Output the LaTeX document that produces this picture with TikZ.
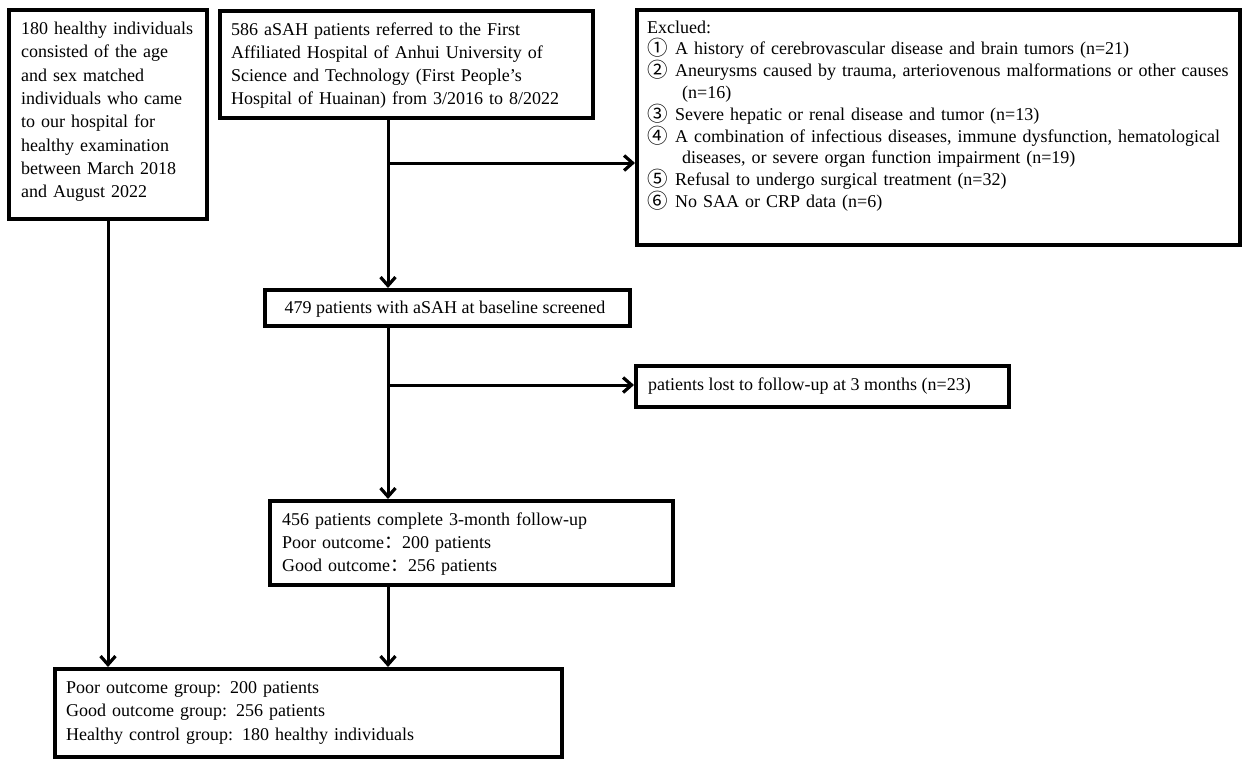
\documentclass[tikz,border=0pt]{standalone}
\usepackage{fontspec}
\setmainfont{Liberation Serif}
\newfontfamily\cjk{Noto Sans CJK SC}
\usetikzlibrary{arrows.meta}
\newcommand{\cnum}[1]{\makebox[28pt][l]{\raisebox{-1pt}{\cjk\fontsize{20.5}{20}\selectfont #1}}}
\begin{document}
\begin{tikzpicture}[x=1pt,y=-1pt,
  box/.style={draw, line width=3.5pt, inner sep=0pt, anchor=north west},
  txt/.style={anchor=base west, inner sep=0pt, align=left, font=\fontsize{18}{23.3}\selectfont},
  arr/.style={line width=3pt, -{Straight Barb[length=8.5pt,width=15pt,line width=3.2pt]}},
  ln/.style={line width=3pt}]
\useasboundingbox[fill=white] (0,0) rectangle (1248,764);

% boxes
\node[box, minimum width=198pt, minimum height=209pt] (A) at (7,8) {};
\node[box, minimum width=373pt, minimum height=107pt] (B) at (218,9) {};
\node[box, minimum width=603pt, minimum height=235pt] (C) at (635,8) {};
\node[box, minimum width=365pt, minimum height=36pt] (D) at (263,288) {};
\node[box, minimum width=373pt, minimum height=41pt] (E) at (634,364) {};
\node[box, minimum width=403pt, minimum height=84pt] (F) at (268,499) {};
\node[box, minimum width=507pt, minimum height=88pt] (G) at (53,667) {};

% texts
\node[txt, text width=200pt] (tA) at (21,34.5) {180 healthy individuals\\consisted of the age\\and sex matched\\individuals who came\\to our hospital for\\healthy examination\\between March 2018\\and August 2022};
\node[txt, text width=380pt] (tB) at (231,35) {586 aSAH patients referred to the First\\Affiliated Hospital of Anhui University of\\Science and Technology (First People’s\\Hospital of Huainan) from 3/2016 to 8/2022};
\node[txt, text width=590pt, font=\fontsize{18}{21.8}\selectfont] (tC) at (647,33) {Exclued:\\
\cnum{①}A history of cerebrovascular disease and brain tumors (n=21)\\
\cnum{②}Aneurysms caused by trauma, arteriovenous malformations or other causes\\
\hspace*{35pt}(n=16)\\
\cnum{③}Severe hepatic or renal disease and tumor (n=13)\\
\cnum{④}A combination of infectious diseases, immune dysfunction, hematological\\
\hspace*{35pt}diseases, or severe organ function impairment (n=19)\\
\cnum{⑤}Refusal to undergo surgical treatment (n=32)\\
\cnum{⑥}No SAA or CRP data (n=6)};
\node[txt, anchor=base] (tD) at (445,313) {479 patients with aSAH at baseline screened};
\node[txt] (tE) at (648,390) {patients lost to follow-up at 3 months (n=23)};
\node[txt, text width=380pt] (tF) at (282,525) {456 patients complete 3-month follow-up\\Poor outcome{\cjk ：}200 patients\\Good outcome{\cjk ：}256 patients};
\node[txt, text width=480pt, font=\fontsize{18}{23.5}\selectfont] (tG) at (66,693) {Poor outcome group: 200 patients\\Good outcome group: 256 patients\\Healthy control group: 180 healthy individuals};

% connectors
\coordinate (sp) at (388,0);
\coordinate (lf) at (108,0);
\coordinate (b1) at (0,163);
\coordinate (b2) at (0,385);
\draw[arr] (B.south -| sp) -- (D.north -| sp);
\draw[arr] (sp |- b1) -- (C.west |- b1);
\draw[arr] (D.south -| sp) -- (F.north -| sp);
\draw[arr] (sp |- b2) -- (E.west |- b2);
\draw[arr] (F.south -| sp) -- (G.north -| sp);
\draw[arr] (A.south -| lf) -- (G.north -| lf);
\end{tikzpicture}
\end{document}
